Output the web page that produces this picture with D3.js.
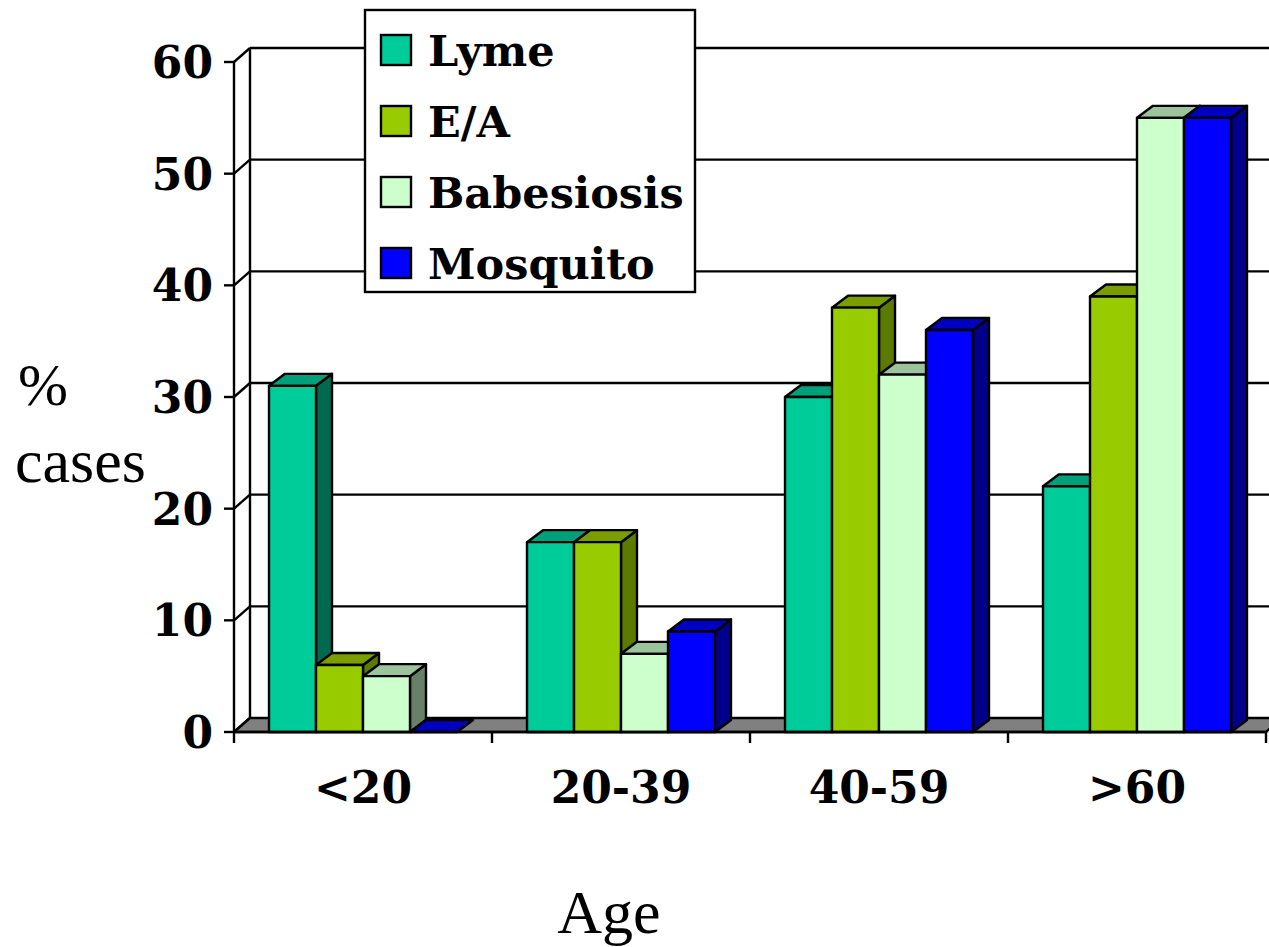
<!DOCTYPE html>
<html>
<head>
<meta charset="utf-8">
<script src="https://cdn.jsdelivr.net/npm/d3@7"></script>
<style>
  body { margin: 0; background: #fff; }
  svg { display: block; }
</style>
</head>
<body>
<div id="chart"></div>
<script>
// data
var categories = ['<20', '20-39', '40-59', '>60'];
var seriesNames = ['Lyme', 'E/A', 'Babesiosis', 'Mosquito'];
var lyme = [31, 17, 30, 22];
var ea = [6, 17, 38, 39];
var babesiosis = [5, 7, 32, 55];
var mosquito = [0, 9, 36, 55];
var yTicks = [0, 10, 20, 30, 40, 50, 60];

var seriesValues = [lyme, ea, babesiosis, mosquito];
var frontColors = ['#00cc99', '#99cc00', '#ccffcc', '#0000ff'];
var topColors = ['#00a07a', '#7a9e00', '#9cc49c', '#0000c0'];
var sideColors = ['#006a50', '#5c7a00', '#688068', '#00008a'];

var width = 1269, height = 947;
var wallDx = 16, wallDy = -14;
var barDx = 16, barDy = -12;
var sw = 2.4;

var svg = d3.select('#chart').append('svg')
  .attr('width', width)
  .attr('height', height);

var x = d3.scaleBand().domain(categories).range([234, 1266]).paddingInner(0).paddingOuter(0);
var xs = d3.scaleBand().domain(seriesNames).range([0, x.bandwidth()]).paddingOuter(0.745).paddingInner(0);
var y = d3.scaleLinear().domain([0, 60]).range([732, 62]);

var line = function(x1, y1, x2, y2) {
  return svg.append('line')
    .attr('x1', x1).attr('y1', y1).attr('x2', x2).attr('y2', y2)
    .attr('stroke', '#000').attr('stroke-width', sw);
};
var poly = function(pts, fill) {
  return svg.append('polygon')
    .attr('points', pts.map(function(p) { return p.join(','); }).join(' '))
    .attr('fill', fill)
    .attr('stroke', '#000')
    .attr('stroke-width', sw)
    .attr('stroke-linejoin', 'round');
};

var x0 = x.range()[0], x1 = x.range()[1];

// walls: gridlines on back wall and side wall
yTicks.forEach(function(t) {
  if (t > 0) {
    line(x0 + wallDx, y(t) + wallDy, width + 5, y(t) + wallDy);
  }
  line(x0, y(t), x0 + wallDx, y(t) + wallDy);
  line(x0 - 10, y(t), x0, y(t));
});
line(x0 + wallDx, y(60) + wallDy, x0 + wallDx, y(0) + wallDy);
line(x0, y(60), x0, y(0));

// floor
poly([[x0, y(0)], [x1, y(0)], [x1 + wallDx, y(0) + wallDy], [x0 + wallDx, y(0) + wallDy]], '#808080');

// category ticks
categories.concat(['end']).forEach(function(c, i) {
  var xx = i < categories.length ? x(c) : x1;
  line(xx, y(0), xx, y(0) + 11);
});

// bars
categories.forEach(function(cat, ci) {
  seriesNames.forEach(function(s, si) {
    var v = seriesValues[si][ci];
    var bx = x(cat) + xs(s), bw = xs.bandwidth();
    var top = y(v), base = y(0);
    // side
    if (v > 0) {
      poly([[bx + bw, top], [bx + bw + barDx, top + barDy], [bx + bw + barDx, base + barDy], [bx + bw, base]], sideColors[si]);
    }
    // top
    poly([[bx, top], [bx + barDx, top + barDy], [bx + bw + barDx, top + barDy], [bx + bw, top]], topColors[si]);
    // front
    if (v > 0) {
      poly([[bx, top], [bx + bw, top], [bx + bw, base], [bx, base]], frontColors[si]);
    }
  });
});
line(x0, y(0), x1, y(0));

// y tick labels
svg.selectAll('.ytick')
  .data(yTicks)
  .enter().append('text')
  .attr('x', 213)
  .attr('y', function(d) { return y(d) + 16; })
  .attr('text-anchor', 'end')
  .attr('font-family', 'DejaVu Serif')
  .attr('font-weight', 'bold')
  .attr('font-size', 44)
  .text(function(d) { return d; });

// category labels
svg.selectAll('.xlab')
  .data(categories)
  .enter().append('text')
  .attr('x', function(d) { return x(d) + x.bandwidth() / 2; })
  .attr('y', 803)
  .attr('text-anchor', 'middle')
  .attr('font-family', 'DejaVu Serif')
  .attr('font-weight', 'bold')
  .attr('font-size', 44)
  .text(function(d) { return d; });

// axis titles
svg.append('text').attr('x', 18).attr('y', 405)
  .attr('font-family', 'Liberation Serif').attr('font-size', 60).text('%');
svg.append('text').attr('x', 15).attr('y', 482)
  .attr('font-family', 'Liberation Serif').attr('font-size', 62).text('cases');
svg.append('text').attr('x', 609).attr('y', 933).attr('text-anchor', 'middle')
  .attr('font-family', 'Liberation Serif').attr('font-size', 62).text('Age');

// legend
var legend = svg.append('g');
legend.append('rect')
  .attr('x', 365).attr('y', 10).attr('width', 330).attr('height', 282)
  .attr('fill', '#fff').attr('stroke', '#000').attr('stroke-width', sw);
seriesNames.forEach(function(s, i) {
  var ly = 35 + i * 71;
  legend.append('rect')
    .attr('x', 381).attr('y', ly).attr('width', 30).attr('height', 30)
    .attr('fill', frontColors[i]).attr('stroke', '#000').attr('stroke-width', sw);
  legend.append('text')
    .attr('x', 428).attr('y', ly + 31)
    .attr('font-family', 'DejaVu Serif')
    .attr('font-weight', 'bold')
    .attr('font-size', 43)
    .text(s);
});
</script>
</body>
</html>
